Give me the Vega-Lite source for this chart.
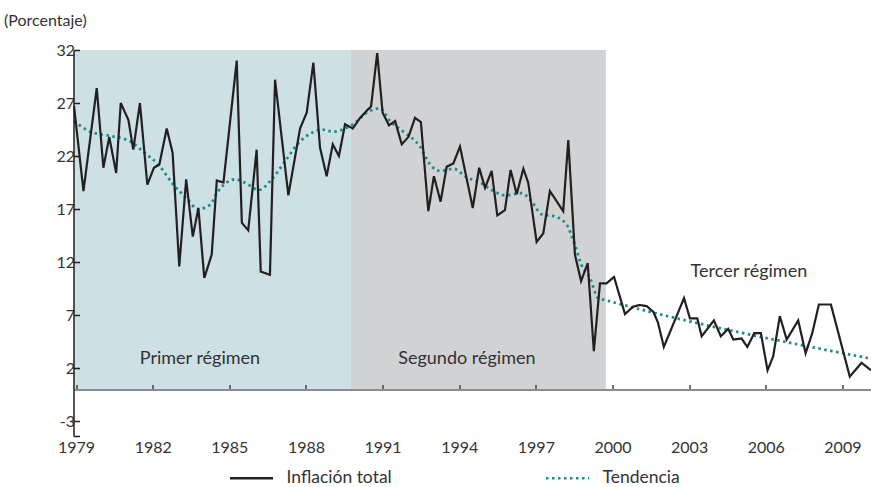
{
  "$schema": "https://vega.github.io/schema/vega-lite/v6.json",
  "width": 797.5,
  "height": 386,
  "autosize": "none",
  "padding": {"left": 73.5, "top": 50, "right": 0, "bottom": 51},
  "background": "white",
  "config": {
    "font": "Lato",
    "view": {"stroke": null},
    "axis": {"labelColor": "#333333", "titleColor": "#333333", "grid": false}
  },
  "datasets": {
    "regimenes": [
      {"inicio": 1978.9, "fin": 1989.76, "tope": 32, "base": 0, "regimen": "Primer régimen"},
      {"inicio": 1989.76, "fin": 1999.74, "tope": 32, "base": 0, "regimen": "Segundo régimen"}
    ],
    "etiquetas": [
      {"anio": 1983.85, "valor": 2.9, "texto": "Primer régimen"},
      {"anio": 1994.3, "valor": 2.9, "texto": "Segundo régimen"},
      {"anio": 2005.34, "valor": 11.1, "texto": "Tercer régimen"}
    ],
    "inflacion": [
      {"anio": 1978.92, "valor": 26.7, "serie": "Inflación total"},
      {"anio": 1979.29, "valor": 18.7, "serie": "Inflación total"},
      {"anio": 1979.81, "valor": 28.4, "serie": "Inflación total"},
      {"anio": 1980.07, "valor": 20.9, "serie": "Inflación total"},
      {"anio": 1980.30, "valor": 23.8, "serie": "Inflación total"},
      {"anio": 1980.57, "valor": 20.4, "serie": "Inflación total"},
      {"anio": 1980.75, "valor": 27.0, "serie": "Inflación total"},
      {"anio": 1981.05, "valor": 25.4, "serie": "Inflación total"},
      {"anio": 1981.24, "valor": 22.6, "serie": "Inflación total"},
      {"anio": 1981.50, "valor": 27.0, "serie": "Inflación total"},
      {"anio": 1981.79, "valor": 19.3, "serie": "Inflación total"},
      {"anio": 1982.05, "valor": 20.9, "serie": "Inflación total"},
      {"anio": 1982.26, "valor": 21.2, "serie": "Inflación total"},
      {"anio": 1982.55, "valor": 24.6, "serie": "Inflación total"},
      {"anio": 1982.78, "valor": 22.3, "serie": "Inflación total"},
      {"anio": 1983.04, "valor": 11.6, "serie": "Inflación total"},
      {"anio": 1983.31, "valor": 19.8, "serie": "Inflación total"},
      {"anio": 1983.57, "valor": 14.4, "serie": "Inflación total"},
      {"anio": 1983.79, "valor": 17.1, "serie": "Inflación total"},
      {"anio": 1984.02, "valor": 10.5, "serie": "Inflación total"},
      {"anio": 1984.31, "valor": 12.7, "serie": "Inflación total"},
      {"anio": 1984.51, "valor": 19.7, "serie": "Inflación total"},
      {"anio": 1984.77, "valor": 19.5, "serie": "Inflación total"},
      {"anio": 1985.29, "valor": 31.0, "serie": "Inflación total"},
      {"anio": 1985.49, "valor": 15.7, "serie": "Inflación total"},
      {"anio": 1985.74, "valor": 15.0, "serie": "Inflación total"},
      {"anio": 1986.07, "valor": 22.6, "serie": "Inflación total"},
      {"anio": 1986.23, "valor": 11.1, "serie": "Inflación total"},
      {"anio": 1986.59, "valor": 10.8, "serie": "Inflación total"},
      {"anio": 1986.79, "valor": 29.2, "serie": "Inflación total"},
      {"anio": 1987.31, "valor": 18.3, "serie": "Inflación total"},
      {"anio": 1987.77, "valor": 24.6, "serie": "Inflación total"},
      {"anio": 1988.03, "valor": 26.1, "serie": "Inflación total"},
      {"anio": 1988.29, "valor": 30.8, "serie": "Inflación total"},
      {"anio": 1988.55, "valor": 22.8, "serie": "Inflación total"},
      {"anio": 1988.81, "valor": 20.1, "serie": "Inflación total"},
      {"anio": 1989.05, "valor": 23.1, "serie": "Inflación total"},
      {"anio": 1989.29, "valor": 22.0, "serie": "Inflación total"},
      {"anio": 1989.53, "valor": 25.0, "serie": "Inflación total"},
      {"anio": 1989.83, "valor": 24.6, "serie": "Inflación total"},
      {"anio": 1990.12, "valor": 25.6, "serie": "Inflación total"},
      {"anio": 1990.55, "valor": 26.7, "serie": "Inflación total"},
      {"anio": 1990.79, "valor": 31.7, "serie": "Inflación total"},
      {"anio": 1991.00, "valor": 26.1, "serie": "Inflación total"},
      {"anio": 1991.25, "valor": 24.9, "serie": "Inflación total"},
      {"anio": 1991.49, "valor": 25.3, "serie": "Inflación total"},
      {"anio": 1991.75, "valor": 23.1, "serie": "Inflación total"},
      {"anio": 1992.01, "valor": 23.8, "serie": "Inflación total"},
      {"anio": 1992.27, "valor": 25.6, "serie": "Inflación total"},
      {"anio": 1992.50, "valor": 25.2, "serie": "Inflación total"},
      {"anio": 1992.79, "valor": 16.8, "serie": "Inflación total"},
      {"anio": 1993.01, "valor": 20.1, "serie": "Inflación total"},
      {"anio": 1993.27, "valor": 17.7, "serie": "Inflación total"},
      {"anio": 1993.51, "valor": 21.0, "serie": "Inflación total"},
      {"anio": 1993.77, "valor": 21.3, "serie": "Inflación total"},
      {"anio": 1994.03, "valor": 22.9, "serie": "Inflación total"},
      {"anio": 1994.53, "valor": 17.1, "serie": "Inflación total"},
      {"anio": 1994.78, "valor": 20.9, "serie": "Inflación total"},
      {"anio": 1995.01, "valor": 19.0, "serie": "Inflación total"},
      {"anio": 1995.27, "valor": 20.6, "serie": "Inflación total"},
      {"anio": 1995.49, "valor": 16.4, "serie": "Inflación total"},
      {"anio": 1995.79, "valor": 16.9, "serie": "Inflación total"},
      {"anio": 1996.01, "valor": 20.7, "serie": "Inflación total"},
      {"anio": 1996.25, "valor": 18.4, "serie": "Inflación total"},
      {"anio": 1996.51, "valor": 20.8, "serie": "Inflación total"},
      {"anio": 1996.70, "valor": 19.5, "serie": "Inflación total"},
      {"anio": 1997.03, "valor": 13.9, "serie": "Inflación total"},
      {"anio": 1997.29, "valor": 14.7, "serie": "Inflación total"},
      {"anio": 1997.55, "valor": 18.7, "serie": "Inflación total"},
      {"anio": 1998.07, "valor": 16.8, "serie": "Inflación total"},
      {"anio": 1998.27, "valor": 23.5, "serie": "Inflación total"},
      {"anio": 1998.53, "valor": 12.7, "serie": "Inflación total"},
      {"anio": 1998.77, "valor": 10.2, "serie": "Inflación total"},
      {"anio": 1999.03, "valor": 11.9, "serie": "Inflación total"},
      {"anio": 1999.27, "valor": 3.6, "serie": "Inflación total"},
      {"anio": 1999.51, "valor": 10.0, "serie": "Inflación total"},
      {"anio": 1999.77, "valor": 10.0, "serie": "Inflación total"},
      {"anio": 2000.06, "valor": 10.6, "serie": "Inflación total"},
      {"anio": 2000.49, "valor": 7.1, "serie": "Inflación total"},
      {"anio": 2000.81, "valor": 7.8, "serie": "Inflación total"},
      {"anio": 2001.07, "valor": 7.95, "serie": "Inflación total"},
      {"anio": 2001.34, "valor": 7.85, "serie": "Inflación total"},
      {"anio": 2001.60, "valor": 7.3, "serie": "Inflación total"},
      {"anio": 2001.78, "valor": 6.3, "serie": "Inflación total"},
      {"anio": 2002.01, "valor": 4.0, "serie": "Inflación total"},
      {"anio": 2002.80, "valor": 8.6, "serie": "Inflación total"},
      {"anio": 2003.03, "valor": 6.7, "serie": "Inflación total"},
      {"anio": 2003.32, "valor": 6.7, "serie": "Inflación total"},
      {"anio": 2003.49, "valor": 5.0, "serie": "Inflación total"},
      {"anio": 2003.97, "valor": 6.5, "serie": "Inflación total"},
      {"anio": 2004.24, "valor": 5.0, "serie": "Inflación total"},
      {"anio": 2004.53, "valor": 5.7, "serie": "Inflación total"},
      {"anio": 2004.73, "valor": 4.7, "serie": "Inflación total"},
      {"anio": 2005.05, "valor": 4.8, "serie": "Inflación total"},
      {"anio": 2005.28, "valor": 4.0, "serie": "Inflación total"},
      {"anio": 2005.55, "valor": 5.3, "serie": "Inflación total"},
      {"anio": 2005.81, "valor": 5.3, "serie": "Inflación total"},
      {"anio": 2006.07, "valor": 1.8, "serie": "Inflación total"},
      {"anio": 2006.29, "valor": 3.1, "serie": "Inflación total"},
      {"anio": 2006.55, "valor": 6.9, "serie": "Inflación total"},
      {"anio": 2006.82, "valor": 4.7, "serie": "Inflación total"},
      {"anio": 2007.27, "valor": 6.5, "serie": "Inflación total"},
      {"anio": 2007.56, "valor": 3.4, "serie": "Inflación total"},
      {"anio": 2007.82, "valor": 5.3, "serie": "Inflación total"},
      {"anio": 2008.08, "valor": 8.0, "serie": "Inflación total"},
      {"anio": 2008.55, "valor": 8.0, "serie": "Inflación total"},
      {"anio": 2009.29, "valor": 1.2, "serie": "Inflación total"},
      {"anio": 2009.75, "valor": 2.5, "serie": "Inflación total"},
      {"anio": 2010.12, "valor": 1.8, "serie": "Inflación total"}
    ],
    "tendencia": [
      {"anio": 1978.92, "valor": 25.3, "serie": "Tendencia"},
      {"anio": 1979.55, "valor": 24.3, "serie": "Tendencia"},
      {"anio": 1980.33, "valor": 23.9, "serie": "Tendencia"},
      {"anio": 1981.11, "valor": 23.4, "serie": "Tendencia"},
      {"anio": 1981.63, "valor": 22.4, "serie": "Tendencia"},
      {"anio": 1982.22, "valor": 21.2, "serie": "Tendencia"},
      {"anio": 1982.81, "valor": 19.3, "serie": "Tendencia"},
      {"anio": 1983.33, "valor": 18.0, "serie": "Tendencia"},
      {"anio": 1983.77, "valor": 17.0, "serie": "Tendencia"},
      {"anio": 1984.24, "valor": 17.4, "serie": "Tendencia"},
      {"anio": 1984.57, "valor": 18.7, "serie": "Tendencia"},
      {"anio": 1985.22, "valor": 19.8, "serie": "Tendencia"},
      {"anio": 1985.61, "valor": 19.5, "serie": "Tendencia"},
      {"anio": 1986.14, "valor": 18.8, "serie": "Tendencia"},
      {"anio": 1986.66, "valor": 19.8, "serie": "Tendencia"},
      {"anio": 1987.18, "valor": 21.5, "serie": "Tendencia"},
      {"anio": 1987.70, "valor": 23.2, "serie": "Tendencia"},
      {"anio": 1988.23, "valor": 24.2, "serie": "Tendencia"},
      {"anio": 1988.62, "valor": 24.5, "serie": "Tendencia"},
      {"anio": 1989.07, "valor": 24.3, "serie": "Tendencia"},
      {"anio": 1989.53, "valor": 24.6, "serie": "Tendencia"},
      {"anio": 1989.85, "valor": 25.0, "serie": "Tendencia"},
      {"anio": 1990.38, "valor": 26.1, "serie": "Tendencia"},
      {"anio": 1990.90, "valor": 26.5, "serie": "Tendencia"},
      {"anio": 1991.29, "valor": 25.3, "serie": "Tendencia"},
      {"anio": 1991.81, "valor": 24.3, "serie": "Tendencia"},
      {"anio": 1992.46, "valor": 22.9, "serie": "Tendencia"},
      {"anio": 1992.86, "valor": 21.2, "serie": "Tendencia"},
      {"anio": 1993.25, "valor": 20.6, "serie": "Tendencia"},
      {"anio": 1993.77, "valor": 20.8, "serie": "Tendencia"},
      {"anio": 1994.29, "valor": 20.0, "serie": "Tendencia"},
      {"anio": 1994.81, "valor": 19.5, "serie": "Tendencia"},
      {"anio": 1995.27, "valor": 18.8, "serie": "Tendencia"},
      {"anio": 1995.79, "valor": 18.3, "serie": "Tendencia"},
      {"anio": 1996.44, "valor": 18.5, "serie": "Tendencia"},
      {"anio": 1996.84, "valor": 17.7, "serie": "Tendencia"},
      {"anio": 1997.23, "valor": 16.5, "serie": "Tendencia"},
      {"anio": 1997.75, "valor": 16.3, "serie": "Tendencia"},
      {"anio": 1998.21, "valor": 15.5, "serie": "Tendencia"},
      {"anio": 1998.53, "valor": 13.6, "serie": "Tendencia"},
      {"anio": 1998.79, "valor": 11.7, "serie": "Tendencia"},
      {"anio": 1999.12, "valor": 10.5, "serie": "Tendencia"},
      {"anio": 1999.44, "valor": 8.6, "serie": "Tendencia"},
      {"anio": 1999.74, "valor": 8.4, "serie": "Tendencia"},
      {"anio": 2010.12, "valor": 2.9, "serie": "Tendencia"}
    ]
  },
  "layer": [
    {
      "data": {"name": "regimenes"},
      "mark": {"type": "rect"},
      "encoding": {
        "x": {"field": "inicio", "type": "quantitative",
          "scale": {"domain": [1978.9, 2010.12], "nice": false, "zero": false},
          "axis": {"title": null, "values": [1979, 1982, 1985, 1988, 1991, 1994, 1997, 2000, 2003, 2006, 2009], "format": "d",
            "offset": -46.5, "domainColor": "#8c8c8c", "domainWidth": 2, "tickColor": "#444444", "tickSize": -5, "tickWidth": 1.5,
            "labelPadding": 55, "labelFontSize": 16, "labelFlush": false, "zindex": 1}},
        "x2": {"field": "fin"},
        "y": {"field": "tope", "type": "quantitative",
          "scale": {"domain": [-4.4, 32], "nice": false, "zero": false},
          "axis": {"title": "(Porcentaje)", "values": [-4.4, -3, 2, 7, 12, 17, 22, 27, 32],
            "labelExpr": "datum.value < -4 ? '' : replace(datum.label, '\u2212', '-')",
            "domainColor": "#231f20", "domainWidth": 1.5, "tickColor": "#231f20", "tickSize": -6, "tickWidth": 1.5,
            "labelPadding": 5, "labelFontSize": 16, "zindex": 1,
            "titleAngle": 0, "titleAlign": "left", "titleBaseline": "middle", "titleX": -70, "titleY": -30,
            "titleFontSize": 16, "titleFontWeight": "normal"}},
        "y2": {"field": "base"},
        "fill": {"field": "regimen", "type": "nominal",
          "scale": {"domain": ["Primer régimen", "Segundo régimen"], "range": ["#cde0e4", "#d1d2d4"]}, "legend": null}
      }
    },
    {
      "data": {"name": "etiquetas"},
      "mark": {"type": "text", "fontSize": 18, "color": "#333333", "align": "center", "baseline": "middle"},
      "encoding": {
        "x": {"field": "anio", "type": "quantitative"},
        "y": {"field": "valor", "type": "quantitative"},
        "text": {"field": "texto"}
      }
    },
    {
      "data": {"name": "tendencia"},
      "mark": {"type": "line", "strokeWidth": 2.8, "interpolate": "monotone", "strokeCap": "butt"},
      "encoding": {
        "x": {"field": "anio", "type": "quantitative"},
        "y": {"field": "valor", "type": "quantitative"},
        "color": {"field": "serie", "type": "nominal",
          "scale": {"domain": ["Inflación total", "Tendencia"], "range": ["#231f20", "#1f8b8f"]},
          "legend": {"title": null, "orient": "none", "legendX": 155, "legendY": 405, "direction": "horizontal",
            "symbolType": "stroke", "symbolSize": 1849, "symbolStrokeWidth": 2.5, "labelFontSize": 17.5,
            "labelOffset": 12, "columnPadding": 148, "labelColor": "#333333"}},
        "strokeDash": {"field": "serie", "type": "nominal",
          "scale": {"domain": ["Inflación total", "Tendencia"], "range": [[1, 0], [2.5, 3.5]]},
          "legend": {"title": null, "orient": "none", "legendX": 155, "legendY": 405, "direction": "horizontal",
            "symbolType": "stroke", "symbolSize": 1849, "symbolStrokeWidth": 2.5, "labelFontSize": 17.5,
            "labelOffset": 12, "columnPadding": 148, "labelColor": "#333333"}}
      }
    },
    {
      "data": {"name": "inflacion"},
      "mark": {"type": "line", "strokeWidth": 2.2, "strokeJoin": "miter"},
      "encoding": {
        "x": {"field": "anio", "type": "quantitative"},
        "y": {"field": "valor", "type": "quantitative"},
        "color": {"field": "serie", "type": "nominal",
          "scale": {"domain": ["Inflación total", "Tendencia"], "range": ["#231f20", "#1f8b8f"]}},
        "strokeDash": {"field": "serie", "type": "nominal",
          "scale": {"domain": ["Inflación total", "Tendencia"], "range": [[1, 0], [2.5, 3.5]]}}
      }
    }
  ]
}
